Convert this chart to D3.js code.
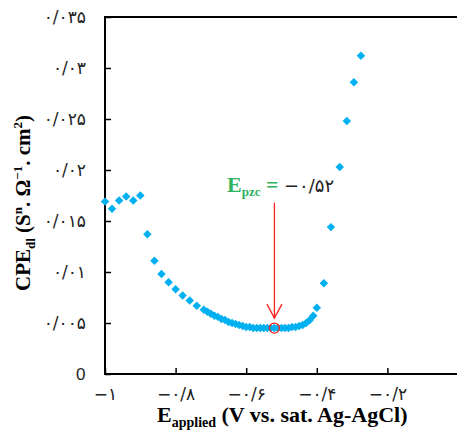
<!DOCTYPE html>
<html>
<head>
<meta charset="utf-8">
<script src="https://cdn.jsdelivr.net/npm/d3@7"></script>
<style>
  body { margin: 0; background: #fff; }
  svg { display: block; }
  .tick text { font-family: "DejaVu Sans", sans-serif; font-size: 17px; fill: #222; direction: ltr; letter-spacing: 0.5px; }
  .title { font-family: "Liberation Serif", "Times New Roman", serif; font-weight: bold; font-size: 22px; fill: #000; }
</style>
</head>
<body>
<script>
// applied potential (V) and double-layer CPE values
const eApplied = [
  -1.00, -0.98, -0.96, -0.94, -0.92, -0.90, -0.88, -0.86, -0.84, -0.82,
  -0.80, -0.78, -0.76, -0.74, -0.72, -0.71, -0.70, -0.69, -0.68, -0.67,
  -0.66, -0.65, -0.64, -0.63, -0.62, -0.61, -0.60, -0.59, -0.58, -0.57,
  -0.56, -0.55, -0.54, -0.53, -0.52, -0.51, -0.50, -0.49, -0.48, -0.47,
  -0.46, -0.45, -0.44, -0.43, -0.42, -0.41, -0.40, -0.38, -0.36, -0.335,
  -0.315, -0.295, -0.275
];
const cpeDl = [
  0.0169, 0.0162, 0.0170, 0.0174, 0.0170, 0.0175, 0.0137, 0.0111, 0.0098, 0.0090,
  0.0083, 0.0077, 0.0072, 0.0067, 0.0063, 0.0061, 0.0059, 0.0057, 0.0056, 0.0054,
  0.0053, 0.0051, 0.0050, 0.0049, 0.0048, 0.0047, 0.0046, 0.0046, 0.0045, 0.0045,
  0.0045, 0.0045, 0.0045, 0.0045, 0.0045, 0.0045, 0.0045, 0.0045, 0.0045, 0.0046,
  0.0046, 0.0047, 0.0048, 0.0050, 0.0053, 0.0057, 0.0065, 0.0089, 0.0144, 0.0203,
  0.0248, 0.0286, 0.0312
];

const xTicks = [-1, -0.8, -0.6, -0.4, -0.2, 0];
const xTickLabels = ["\u2212\u06F1", "\u2212\u06F0/\u06F8", "\u2212\u06F0/\u06F6", "\u2212\u06F0/\u06F4", "\u2212\u06F0/\u06F2", "\u06F0"];
const yTicks = [0, 0.005, 0.01, 0.015, 0.02, 0.025, 0.03, 0.035];
const yTickLabels = ["0", "\u06F0/\u06F0\u06F0\u06F5", "\u06F0/\u06F0\u06F1", "\u06F0/\u06F0\u06F1\u06F5",
  "\u06F0/\u06F0\u06F2", "\u06F0/\u06F0\u06F2\u06F5", "\u06F0/\u06F0\u06F3", "\u06F0/\u06F0\u06F3\u06F5"];

// point of zero charge
const ePzc = -0.52;
const cpeAtPzc = 0.0045;
const pzcLabel = "\u2212\u06F0/\u06F5\u06F2";

const width = 457, height = 431;
const margin = { top: 17, right: -1, bottom: 57, left: 105 };

const svg = d3.select('body').append('svg')
  .attr('width', width)
  .attr('height', height);

const x = d3.scaleLinear()
  .domain([-1, 0])
  .range([margin.left, width - margin.right]);

const y = d3.scaleLinear()
  .domain([0, 0.035])
  .range([height - margin.bottom, margin.top]);

// axes with inward ticks
const xAxis = svg.append('g')
  .attr('transform', `translate(0,${height - margin.bottom})`)
  .call(d3.axisBottom(x)
    .tickValues(xTicks)
    .tickSizeInner(-6)
    .tickSizeOuter(0)
    .tickPadding(14)
    .tickFormat((d, i) => xTickLabels[i]));

const yAxis = svg.append('g')
  .attr('transform', `translate(${margin.left},0)`)
  .call(d3.axisLeft(y)
    .tickValues(yTicks)
    .tickSizeInner(-6)
    .tickSizeOuter(0)
    .tickPadding(19)
    .tickFormat((d, i) => yTickLabels[i]));

[xAxis, yAxis].forEach(g => {
  g.select('.domain').remove();
  g.selectAll('.tick line').attr('stroke', '#000').attr('stroke-width', 1.5);
});
yAxis.selectAll('.tick text').filter(d => d === 0)
  .style('font-family', '"Liberation Sans", Arial, sans-serif');

// plot frame
svg.append('rect')
  .attr('x', x(-1))
  .attr('y', y(0.035))
  .attr('width', x(0) - x(-1))
  .attr('height', y(0) - y(0.035))
  .attr('fill', 'none')
  .attr('stroke', '#000')
  .attr('stroke-width', 2);

// data points
const points = eApplied.map((e, i) => ({ e: e, c: cpeDl[i] }));
const diamond = d3.symbol().type(d3.symbolSquare).size(36);

svg.append('g')
  .selectAll('path')
  .data(points)
  .enter()
  .append('path')
  .attr('d', diamond)
  .attr('transform', d => `translate(${x(d.e)},${y(d.c)}) rotate(45)`)
  .attr('fill', '#00b0f0');

// pzc annotation
const px = x(ePzc);
const arrowTop = y(0.0168);
const arrowTip = y(cpeAtPzc) - 10;
svg.append('line')
  .attr('x1', px).attr('x2', px)
  .attr('y1', arrowTop).attr('y2', arrowTip)
  .attr('stroke', '#ff2020')
  .attr('stroke-width', 1.3);
svg.append('path')
  .attr('d', `M${px - 7.5},${arrowTip - 14}L${px},${arrowTip}L${px + 7.5},${arrowTip - 14}`)
  .attr('fill', 'none')
  .attr('stroke', '#ff2020')
  .attr('stroke-width', 1.3);
svg.append('circle')
  .attr('cx', px)
  .attr('cy', y(cpeAtPzc))
  .attr('r', 5)
  .attr('fill', 'none')
  .attr('stroke', '#ff2020')
  .attr('stroke-width', 1.3);

const pzcText = svg.append('text')
  .attr('x', 227)
  .attr('y', 192)
  .attr('class', 'title')
  .style('font-size', '22px');
pzcText.append('tspan').attr('fill', '#2eb360').text('E');
pzcText.append('tspan').attr('fill', '#2eb360').attr('dy', 4).style('font-size', '13px').text('pzc');
pzcText.append('tspan').attr('fill', '#2eb360').attr('dy', -4).text(' = ');
pzcText.append('tspan')
  .attr('fill', '#222')
  .style('font-family', '"DejaVu Sans", sans-serif')
  .style('font-weight', 'normal')
  .style('font-size', '18px')
  .text(pzcLabel);

// axis titles
const xTitle = svg.append('text')
  .attr('class', 'title')
  .attr('x', 157)
  .attr('y', 422);
xTitle.append('tspan').text('E');
xTitle.append('tspan').attr('dy', 5).style('font-size', '14px').text('applied');
xTitle.append('tspan').attr('dy', -5).text(' (V vs. sat. Ag-AgCl)');

const yTitle = svg.append('text')
  .attr('class', 'title')
  .style('font-size', '21px')
  .attr('transform', 'translate(30,291) rotate(-90)');
yTitle.append('tspan').text('CPE');
yTitle.append('tspan').attr('dy', 5).style('font-size', '13px').text('dl');
yTitle.append('tspan').attr('dy', -5).text(' (S');
yTitle.append('tspan').attr('dy', -8).style('font-size', '13px').text('n');
yTitle.append('tspan').attr('dy', 8).text('. \u03A9');
yTitle.append('tspan').attr('dy', -8).style('font-size', '13px').text('\u22121');
yTitle.append('tspan').attr('dy', 8).text('. cm');
yTitle.append('tspan').attr('dy', -8).style('font-size', '13px').text('2');
yTitle.append('tspan').attr('dy', 8).text(')');
</script>
</body>
</html>
